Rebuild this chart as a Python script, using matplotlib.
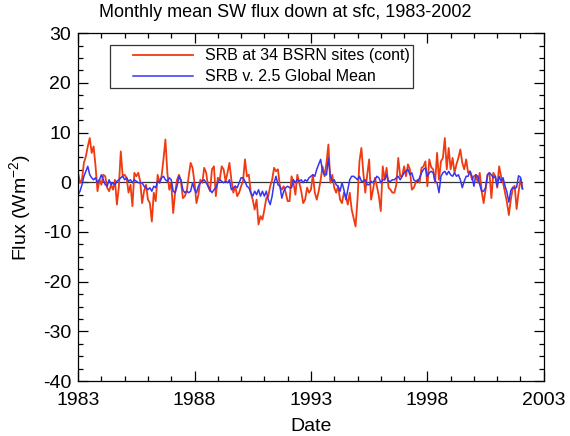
import numpy as np
import matplotlib
matplotlib.use("Agg")
import matplotlib.pyplot as plt
from matplotlib.ticker import MultipleLocator
from matplotlib.legend_handler import HandlerLine2D

plt.rcParams['font.family'] = ['Liberation Sans', 'DejaVu Sans']
plt.rcParams['axes.unicode_minus'] = False
plt.rcParams['mathtext.fontset'] = 'custom'
plt.rcParams['mathtext.rm'] = 'Liberation Sans'

start_year = 1983
red_vals = [
    1.9, -0.1, 0.5, 3.9, 5.2, 7.2, 8.9, 5.9, 7.2, 3.2, -1.8, 0.5, -0.5, 1.5, 1.2, -1.1, -1.8, -0.5, -1.5, 0.5,
    -4.5, -1.0, 6.2, 1.2, 1.5, 0.9, -2.1, -0.5, -4.8, 1.9, 1.2, 1.9, 0.2, -4.2,
    -1.8, -0.5, -3.5, -4.2, -7.9, -2.1, -3.8, 1.5, -0.1, 1.2, 4.6, 8.6, 1.9, -1.5, -0.1, -6.2,
    -2.1, 0.5, 1.5, 0.2, -3.2, -2.8, -1.8, 1.2, 3.9, 2.9, -0.1, -4.2, -2.5, 0.5, -0.1, 2.9,
    1.9, -0.8, -1.8, 2.6, 3.2,
    -2.8, 0.9, 0.5, 3.2, 2.6, 0.2, 1.9, 3.9, 0.5, -2.1, -0.8, -2.8, -2.1, -0.8, 0.2, 4.6,
    1.2, 1.5, -2.1, -3.5, -5.5, -3.5, -8.5, -6.8, -7.5, -5.5, -3.2, -2.8, -0.8, 0.5, 2.9, 2.2,
    2.6, -0.8, -1.5, -0.8, -2.1, -3.8,
    -3.8, 1.2, -0.1, -2.5, 1.5, -0.1, -1.8, -4.2, -3.5, -1.1, -2.1, -1.5, 1.5, -2.1, -3.5, -1.8,
    0.5, 3.2, 1.2, 3.9, 7.6, -0.1, 1.5, -1.1, -2.1, -0.8, -3.5, -4.2, -2.1, -2.8, -4.5, -2.1,
    -5.5, -7.2, -8.9, -3.5, 4.2,
    6.9, 1.9, -2.1, 1.5, 4.6, -3.5, -1.5, 0.9, -0.8, -2.8, -5.8, 3.2, 0.5, 2.9, -1.1, -1.5,
    -2.1, -2.1, -0.5, 4.9, 1.2, 1.2, 3.2, 1.2, 3.6, 2.6, -1.5, -1.1, -0.1, 0.5, -0.1, 2.9,
    3.2, 4.2, -0.8, 4.6, 3.0,
    2.6, -0.1, 5.9, 0.5, 4.2, 4.9, 8.9, 2.6, 6.9, 2.6, 4.9, 1.9, 3.6, 4.9, 6.6, 3.9, 2.6,
    4.6, 1.9, 2.2, 0.5, 1.2, 1.5, -0.1, 1.9, -1.8, -4.2, -1.5, 1.5, 1.9, -3.2, 1.9, 1.2,
    -1.1, 3.2, 1.2, -0.1,
    -2.0, -4.0, -6.6, -3.5, -1.3, -0.7, -5.4, -2.0, 0.7, -1.3,
]
blue_vals = [
    -2.5, -1.8, -0.5, 1.2, 2.2, 3.2, 1.5, 0.9, 0.5, 0.9, -0.1, 0.5, 1.5, 0.5, -0.5, -0.8, 0.5, -0.5, -0.1, -0.5,
    0.2, 0.5, 0.9, 1.2, 0.5, 0.9, 0.2, 0.5, -0.1, 0.5, 0.2, -0.1, -0.1, -0.1,
    -0.8, -1.1, -1.5, -1.1, -1.8, -0.8, -1.1, 0.2, -0.1, 0.9, 1.2, 0.5, 0.2, 0.9, 0.5, -1.8,
    -2.1, -0.8, 1.2, 0.5, -1.5, -2.1, -1.8, -2.1, -1.8, -0.1, -1.5, -2.1, -0.8, -0.1, 0.2, 0.5,
    -0.1, -0.8, -1.5, -2.1, -1.5,
    -1.1, -0.1, 0.5, 0.2, -0.1, 0.2, -0.1, 0.5, -1.5, -1.1, -0.8, -1.1, -0.1, 0.9, 0.9, 0.2,
    -0.8, -1.1, -2.1, -2.8, -1.8, -2.5, -1.5, -2.8, -1.8, -2.8, -1.8, -3.5, -4.5, -2.8, -0.1, 1.2,
    -0.5, -0.8, -3.2, -1.8, -1.1, -0.8,
    -1.1, -1.1, 0.5, -0.1, 0.5, 0.2, 0.5, -0.1, 0.5, 0.2, 0.9, 1.2, 1.5, 1.2, 2.6, 3.6,
    4.6, 2.2, 1.5, 1.5, 4.9, 1.2, 0.2, 0.5, -0.5, -0.8, -1.8, -0.1, -1.5, -3.5, -1.5, 0.5,
    1.2, 1.2, 0.9, 0.5, 1.2,
    0.2, 0.2, 0.5, -0.5, -0.5, 0.2, -0.1, 0.5, 1.2, 0.9, -0.1, 0.5, 0.5, 1.5, 0.2, 0.2,
    0.5, 0.5, 0.9, 1.2, 0.5, 1.2, 1.9, 2.2, 2.6, 1.5, 1.9, 0.5, 0.2, 0.2, 0.9, 1.9,
    2.6, 2.9, 1.2, 1.9, 2.2,
    1.9, 0.2, -0.1, -2.1, 1.2, 1.9, 2.2, 1.5, 2.2, 1.5, 1.2, 1.9, 1.2, 1.5, 0.5, -1.1, 0.2,
    1.2, 1.2, 2.2, 1.2, -0.8, 1.5, 1.2, -0.5, -1.8, -1.8, -1.1, 1.5, 1.9, 1.5, 0.9, 1.2,
    -0.8, 1.2, 0.2, 0.9,
    -0.7, -2.0, -4.0, -1.7, -1.0, -1.3, -1.0, 1.3, 1.0, -1.3,
]
xticks = [1983, 1988, 1993, 1998, 2003]
yticks = [-40, -30, -20, -10, 0, 10, 20, 30]

n = min(len(red_vals), len(blue_vals))
dates = start_year + np.arange(n) / 12.0


class InsetLine(HandlerLine2D):
    def get_xdata(self, legend, xdescent, ydescent, width, height, fontsize):
        x0 = -xdescent
        return np.array([x0 + 14, x0 + width]), np.array([x0 + width / 2])


fig = plt.figure(figsize=(5.70, 4.36), dpi=100)
ax = fig.add_axes([0.137, 0.126, 0.817, 0.798])

ax.plot(dates, np.zeros(n), color='#333333', lw=0.9)
l1, = ax.plot(dates, red_vals[:n], color='#f03a10', lw=1.3, label='SRB at 34 BSRN sites (cont)')
l2, = ax.plot(dates, blue_vals[:n], color='#3535f5', lw=1.1, label='SRB v. 2.5 Global Mean')

ax.set_xlim(1983, 2003)
ax.set_ylim(-40, 30)
ax.set_xticks(xticks)
ax.set_yticks(yticks)
ax.xaxis.set_minor_locator(MultipleLocator(1))
ax.yaxis.set_minor_locator(MultipleLocator(2.5))
ax.tick_params(which='both', direction='in', top=True, right=True, labelsize=14, width=0.9)
ax.tick_params(which='major', length=7)
ax.tick_params(which='minor', length=3.5)
ax.tick_params(axis='x', which='major', pad=8)
ax.tick_params(axis='y', which='major', pad=5)
for s in ax.spines.values():
    s.set_linewidth(0.9)

fig.text(0.5, 0.972, 'Monthly mean SW flux down at sfc, 1983-2002', fontsize=13,
         ha='center', va='center')
ax.set_xlabel('Date', fontsize=14, labelpad=6)
ax.set_ylabel('Flux (Wm$^{\\mathrm{-2}}$)', fontsize=14, labelpad=6)

leg = ax.legend(handles=[l1, l2], loc='upper left', bbox_to_anchor=(0.069, 0.966),
                fontsize=11.5, frameon=True, fancybox=False, edgecolor='black',
                handlelength=5.0, handletextpad=0.75, borderpad=0.2, labelspacing=0.39,
                borderaxespad=0, handler_map={l1: InsetLine(), l2: InsetLine()})
leg.get_frame().set_linewidth(0.9)

fig.savefig('out.png', dpi=100)
